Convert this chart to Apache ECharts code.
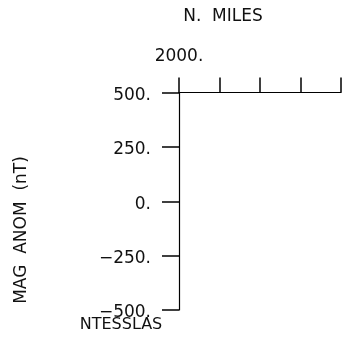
<!DOCTYPE html>
<html><head><meta charset="utf-8">
<script src="https://cdn.jsdelivr.net/npm/echarts@6/dist/echarts.min.js"></script>
<style>html,body{margin:0;padding:0;background:#fff}#c{width:344px;height:347px}</style>
</head><body><div id="c"></div>
<script>
var xTitle = 'N.  MILES';
var yTitle = 'MAG  ANOM  (nT)';
var yUnit = 'NTESSLAS';
var xMin = 2000, xMax = 2004, xStep = 1;
var xLabeled = [2000];
var yMin = -500, yMax = 500, yStep = 250;
var seriesValues = [];

var F = '"DejaVu Sans", sans-serif';
var chart = echarts.init(document.getElementById('c'), null, {renderer: 'canvas'});
chart.setOption({
  animation: false,
  backgroundColor: '#fff',
  grid: {left: 179, top: 92.5, width: 163.5, height: 217.5},
  xAxis: {
    type: 'value', position: 'top', min: xMin, max: xMax, interval: xStep,
    axisLine: {show: true, onZero: false, lineStyle: {color: '#000', width: 1.2}},
    axisTick: {show: true, inside: false, length: 15, lineStyle: {color: '#000', width: 1.5}},
    splitLine: {show: false},
    axisLabel: {
      margin: 27, color: '#111', fontFamily: F, fontSize: 17,
      formatter: function (v) { return xLabeled.indexOf(v) >= 0 ? v + '.' : ''; }
    }
  },
  yAxis: {
    type: 'value', min: yMin, max: yMax, interval: yStep,
    axisLine: {show: true, onZero: false, lineStyle: {color: '#000', width: 1.2}},
    axisTick: {show: true, inside: false, length: 17, lineStyle: {color: '#000', width: 1.5}},
    splitLine: {show: false},
    axisLabel: {
      margin: 28, color: '#111', fontFamily: F, fontSize: 17, verticalAlign: 'top', lineHeight: 6,
      formatter: function (v) { return (v < 0 ? '\u2212' + (-v) : v) + '.'; }
    }
  },
  graphic: [
    {type: 'text', style: {text: xTitle, x: 223, y: 17, textAlign: 'center', textVerticalAlign: 'middle', fill: '#111', font: '17px ' + F}},
    {type: 'text', x: 22, y: 230, rotation: Math.PI / 2, style: {text: yTitle, x: 0, y: 0, textAlign: 'center', textVerticalAlign: 'middle', fill: '#111', font: '17px ' + F}},
    {type: 'text', style: {text: yUnit, x: 121, y: 325, textAlign: 'center', textVerticalAlign: 'middle', fill: '#111', font: '16px ' + F}}
  ],
  series: [{type: 'line', data: seriesValues, showSymbol: false}]
});
</script></body></html>
